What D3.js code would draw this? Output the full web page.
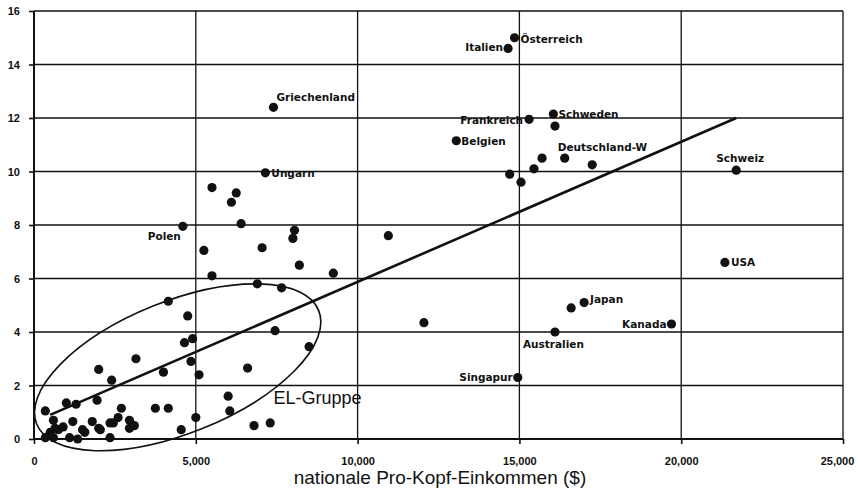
<!DOCTYPE html>
<html>
<head>
<meta charset="utf-8">
<script src="https://cdn.jsdelivr.net/npm/d3@7"></script>
<style>
  html, body { margin: 0; padding: 0; background: #fff; }
  #graphicContainer { width: 858px; height: 496px; }
  text { font-family: "Liberation Sans", Arial, sans-serif; fill: #111; }
</style>
</head>
<body>
<div id="graphicContainer"></div>
<script>

// named countries: income ($) and value on the y axis
var labelNames = ["Österreich", "Italien", "Griechenland", "Frankreich", "Schweden", "Belgien",
	"Deutschland-W", "Ungarn", "Polen", "Schweiz", "USA", "Japan", "Kanada", "Australien", "Singapur"]
var labelIncome = [14850, 14650, 7400, 15300, 16050, 13050, 16400, 7150, 4600, 21700, 21350, 17000, 19700, 16100, 14950]
var labelValue = [15.0, 14.6, 12.4, 11.95, 12.15, 11.15, 10.5, 9.95, 7.95, 10.05, 6.6, 5.1, 4.3, 4.0, 2.3]

// the rest of the countries, unnamed
var otherIncome = [16100, 15700, 17250, 15450, 14700, 15050, 16600, 12050, 10950,
	5500, 6250, 6100, 6400, 5250, 7050, 8050, 8000, 8200, 9250, 5500, 6900, 7650, 4150, 4750,
	7450, 4650, 4900, 8500, 4850, 4000, 5100, 6600, 6000, 6050, 3750, 4150, 5000, 4550, 6800, 7300,
	3150, 2000, 2400, 1950, 1000, 1300, 350, 2700, 600, 1200, 1800, 2350, 2600, 2950, 3100, 2950,
	2000, 1500, 900, 750, 500, 600, 1100, 1350, 1570, 2350, 350, 650, 2450, 2050]
var otherValue = [11.7, 10.5, 10.25, 10.1, 9.9, 9.6, 4.9, 4.35, 7.6,
	9.4, 9.2, 8.85, 8.05, 7.05, 7.15, 7.8, 7.5, 6.5, 6.2, 6.1, 5.8, 5.65, 5.15, 4.6,
	4.05, 3.6, 3.75, 3.45, 2.9, 2.5, 2.4, 2.65, 1.6, 1.05, 1.15, 1.15, 0.8, 0.35, 0.5, 0.6,
	3.0, 2.6, 2.2, 1.45, 1.35, 1.3, 1.05, 1.15, 0.7, 0.65, 0.65, 0.6, 0.8, 0.7, 0.5, 0.4,
	0.4, 0.35, 0.45, 0.35, 0.25, 0.05, 0.05, 0.0, 0.25, 0.05, 0.05, 0.4, 0.6, 0.35]

// trend line end points
var trendIncome = [500, 21700]
var trendValue = [0.9, 12.0]

var xTicks = [0, 5000, 10000, 15000, 20000, 25000]
var yTicks = [0, 2, 4, 6, 8, 10, 12, 14, 16]

// label placement: dx, dy, anchor
var labelPos = [[6, 5, "start"], [-5, 3, "end"], [3, -6, "start"], [-6, 5, "end"], [5, 4, "start"],
	[5, 4, "start"], [-7, -7, "start"], [6, 4, "start"], [-2, 14, "end"], [4, -8, "middle"],
	[6, 4, "start"], [6, 0, "start"], [-5, 4, "end"], [-32, 16, "start"], [-5, 4, "end"]]

function init() {

	var width = 858
	var height = 496
	var margin = {top: 11, right: 15, bottom: 57, left: 34}

	var svg = d3.select("#graphicContainer").append("svg")
		.attr("width", width)
		.attr("height", height)

	var x = d3.scaleLinear().domain([0, 25000]).range([margin.left, width - margin.right])
	var y = d3.scaleLinear().domain([0, 16]).range([height - margin.bottom, margin.top])

	// grid
	svg.append("g").selectAll("line")
		.data(yTicks)
		.enter().append("line")
		.attr("x1", x(0)).attr("x2", x(25000))
		.attr("y1", d => y(d)).attr("y2", d => y(d))
		.attr("stroke", "#111").attr("stroke-width", 1.3)

	svg.append("g").selectAll("line")
		.data(xTicks)
		.enter().append("line")
		.attr("x1", d => x(d)).attr("x2", d => x(d))
		.attr("y1", y(0)).attr("y2", y(16))
		.attr("stroke", "#111").attr("stroke-width", 1.3)

	// axes
	var xAxis = svg.append("g")
		.attr("transform", "translate(0," + y(0) + ")")
		.call(d3.axisBottom(x).tickValues(xTicks).tickSize(5).tickPadding(13).tickFormat(d3.format(",")))

	var yAxis = svg.append("g")
		.attr("transform", "translate(" + x(0) + ",0)")
		.call(d3.axisLeft(y).tickValues(yTicks).tickSize(5).tickPadding(9))

	svg.selectAll(".domain").remove()
	svg.selectAll(".tick line").attr("stroke", "#111").attr("stroke-width", 1.6)
	svg.selectAll(".tick text")
		.style("font-family", "'Liberation Sans', Arial, sans-serif")
		.style("font-weight", "bold")
		.style("font-size", "11px")
		.attr("fill", "#111")

	// last x label sits a little to the left, as in the print
	xAxis.selectAll(".tick text").filter(d => d === 25000).attr("dx", -6)

	// frame left and bottom a bit heavier
	svg.append("line").attr("x1", x(0)).attr("x2", x(0)).attr("y1", y(0)).attr("y2", y(16))
		.attr("stroke", "#111").attr("stroke-width", 2)
	svg.append("line").attr("x1", x(0)).attr("x2", x(25000)).attr("y1", y(0)).attr("y2", y(0))
		.attr("stroke", "#111").attr("stroke-width", 2)

	// trend line
	svg.append("line")
		.attr("x1", x(trendIncome[0])).attr("y1", y(trendValue[0]))
		.attr("x2", x(trendIncome[1])).attr("y2", y(trendValue[1]))
		.attr("stroke", "#111").attr("stroke-width", 2.6)

	// EL-Gruppe ellipse
	var cx = x(4440), cy = y(2.68)
	svg.append("ellipse")
		.attr("cx", 0).attr("cy", 0)
		.attr("rx", 152).attr("ry", 66)
		.attr("transform", "translate(" + cx + "," + cy + ") rotate(-21.9)")
		.attr("fill", "none").attr("stroke", "#111").attr("stroke-width", 1.6)

	svg.append("text")
		.attr("x", x(7400)).attr("y", y(1.32))
		.style("font-size", "18px")
		.text("EL-Gruppe")

	// points
	svg.append("g").selectAll("circle")
		.data(d3.range(otherIncome.length))
		.enter().append("circle")
		.attr("cx", i => x(otherIncome[i]))
		.attr("cy", i => y(otherValue[i]))
		.attr("r", 4.6)
		.attr("fill", "#111")

	svg.append("g").selectAll("circle")
		.data(d3.range(labelNames.length))
		.enter().append("circle")
		.attr("cx", i => x(labelIncome[i]))
		.attr("cy", i => y(labelValue[i]))
		.attr("r", 4.6)
		.attr("fill", "#111")

	svg.append("g").selectAll("text")
		.data(d3.range(labelNames.length))
		.enter().append("text")
		.attr("x", i => x(labelIncome[i]) + labelPos[i][0])
		.attr("y", i => y(labelValue[i]) + labelPos[i][1])
		.attr("text-anchor", i => labelPos[i][2])
		.style("font-family", "'DejaVu Sans', sans-serif")
		.style("font-weight", "bold")
		.style("font-size", "10.5px")
		.text(i => labelNames[i])

	// axis title
	svg.append("text")
		.attr("x", 440).attr("y", 484)
		.attr("text-anchor", "middle")
		.style("font-size", "19px")
		.text("nationale Pro-Kopf-Einkommen ($)")

}

init()

</script>
</body>
</html>
